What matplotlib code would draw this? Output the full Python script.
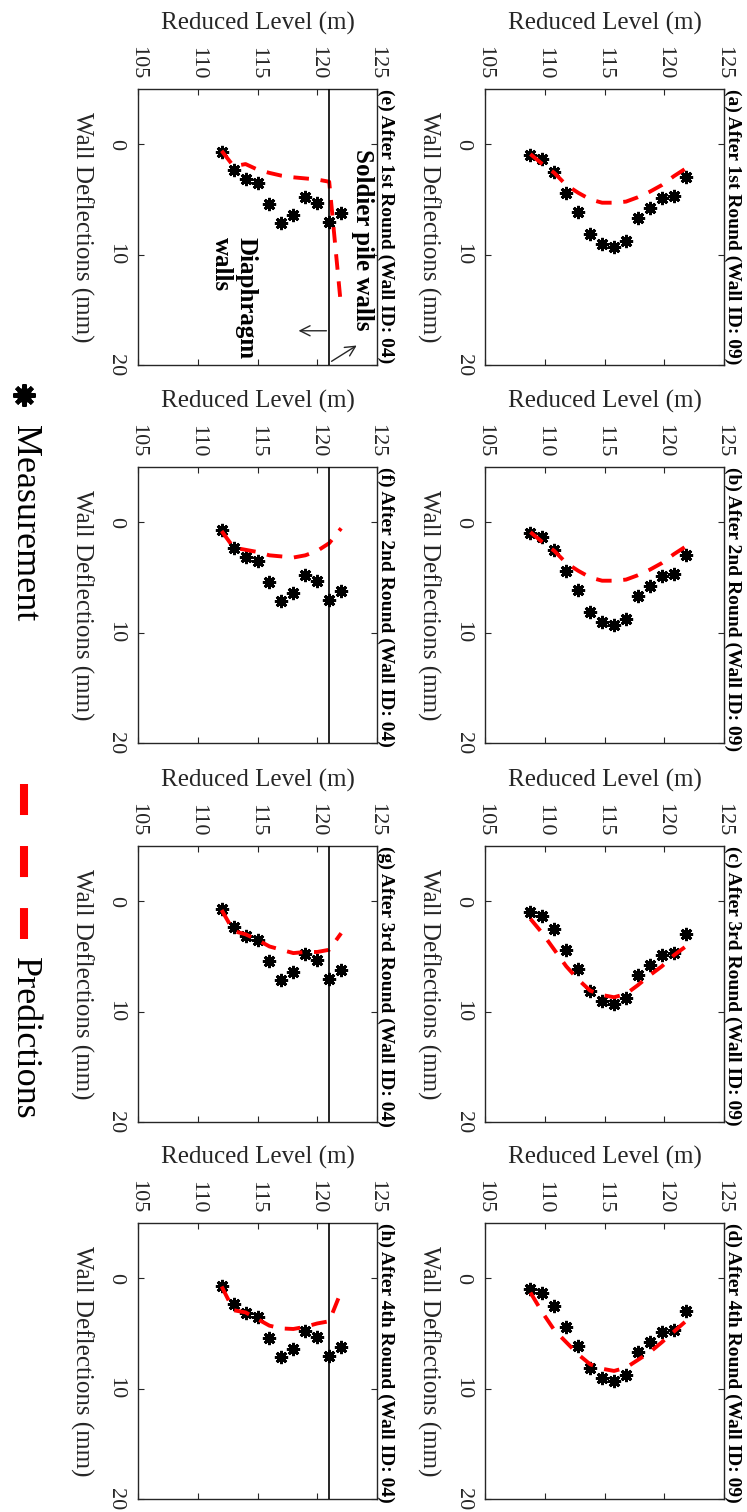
import matplotlib.pyplot as plt
from matplotlib.lines import Line2D

plt.rcParams['font.family'] = ['Liberation Serif', 'DejaVu Serif']

# reduced levels of the inclinometer readings
rl_09 = [108.8, 109.8, 110.8, 111.8, 112.8, 113.8, 114.8, 115.8, 116.8, 117.8, 118.8, 119.8, 120.8, 121.8]
rl_04 = [112, 113, 114, 115, 116, 117, 118, 119, 120, 121, 122]

# measured wall deflections (mm)
meas_09 = [1.0, 1.3, 2.5, 4.4, 6.1, 8.1, 9.0, 9.3, 8.8, 6.7, 5.8, 4.9, 4.7, 3.0]
meas_04 = [0.7, 2.3, 3.15, 3.5, 5.4, 7.1, 6.4, 4.75, 5.35, 7.05, 6.2]

# predicted deflections after each round (mm)
pred_09_r1 = [0.9, 1.8, 2.6, 3.7, 4.4, 5.0, 5.3, 5.3, 5.2, 4.8, 4.3, 3.7, 2.9, 2.2]
pred_09_r2 = [0.9, 1.8, 2.6, 3.7, 4.4, 5.0, 5.3, 5.3, 5.2, 4.8, 4.3, 3.7, 2.9, 2.2]
pred_09_r3 = [1.6, 2.9, 4.4, 5.9, 7.1, 8.1, 8.5, 8.7, 8.4, 7.6, 6.7, 5.9, 4.9, 4.1]
pred_09_r4 = [1.3, 3.1, 4.7, 5.8, 6.9, 7.8, 8.2, 8.4, 8.1, 7.4, 6.7, 5.8, 4.85, 3.9]

pred_04_r1 = [0.6, 2.0, 1.8, 2.3, 2.6, 2.85, 3.0, 3.1, 3.2, 3.4, 14.8]
pred_04_r2 = [0.8, 2.3, 2.5, 2.7, 3.0, 3.1, 3.2, 3.0, 2.6, 1.9, 0.55]
pred_04_r3 = [0.8, 2.7, 3.0, 3.5, 4.1, 4.4, 4.7, 4.6, 4.6, 4.4, 2.9]
pred_04_r4 = [0.75, 2.9, 3.1, 3.7, 4.3, 4.55, 4.6, 4.4, 4.1, 3.9, 1.2]

titles_09 = ['(a) After 1st Round (Wall ID: 09)', '(b) After 2nd Round (Wall ID: 09)',
             '(c) After 3rd Round (Wall ID: 09)', '(d) After 4th Round (Wall ID: 09)']
titles_04 = ['(e) After 1st Round (Wall ID: 04)', '(f) After 2nd Round (Wall ID: 04)',
             '(g) After 3rd Round (Wall ID: 04)', '(h) After 4th Round (Wall ID: 04)']

wall_change_rl = 121.0
x_ticks = [105, 110, 115, 120, 125]
y_ticks = [0, 10, 20]

GRAY = '#262626'
W, H = 747, 1512

fig = plt.figure(figsize=(W / 100, H / 100), dpi=100)


def make_axes(left_px, top_px):
    ax = fig.add_axes([left_px / W, 1 - (top_px + 276) / H, 239 / W, 276 / H])
    ax.set_xlim(105, 125)
    ax.set_ylim(20, -5)
    ax.set_xticks(x_ticks)
    ax.set_yticks(y_ticks)
    ax.tick_params(axis='both', direction='in', top=True, bottom=True, left=True, right=True,
                   labeltop=True, labelbottom=False, length=4, width=0.8,
                   colors=GRAY, labelsize=16)
    ax.tick_params(axis='x', pad=7, labelrotation=-90)
    ax.tick_params(axis='y', pad=9, labelrotation=-90)
    for lab in ax.get_yticklabels():
        lab.set_va('center')
    for s in ax.spines.values():
        s.set_color(GRAY)
        s.set_linewidth(1.0)
    ax.xaxis.set_label_position('top')
    ax.set_xlabel('Reduced Level (m)', fontsize=18, color=GRAY)
    ax.xaxis.label.set(va='center', ha='center')
    ax.xaxis.set_label_coords(0.5, 1.238)
    ax.set_ylabel('Wall Deflections (mm)', fontsize=18, color=GRAY)
    ax.yaxis.label.set(rotation=-90, ha='center', va='center', rotation_mode='default')
    ax.yaxis.set_label_coords(-0.235, 0.5)
    return ax


def draw_panel(ax, rl, meas, pred, title, wall_line=False):
    ax.plot(rl, meas, linestyle='none', marker='o', ms=6, color='k', zorder=3)
    ax.plot(rl, meas, linestyle='none', marker=(8, 2, 0), ms=9.5, mew=2.0, color='k', zorder=3)
    ax.plot(rl, pred, color='red', lw=2.8, dashes=(4, 3), zorder=4)
    if wall_line:
        ax.axvline(wall_change_rl, color='k', lw=1.2, zorder=5)
    ax.text(1.037, 1.0, title, transform=ax.transAxes, rotation=-90, ha='center', va='top',
            fontsize=14, fontweight='bold')


row_top = [89, 467, 846, 1223]
preds_09 = [pred_09_r1, pred_09_r2, pred_09_r3, pred_09_r4]
preds_04 = [pred_04_r1, pred_04_r2, pred_04_r3, pred_04_r4]

for i in range(4):
    ax_r = make_axes(485, row_top[i])
    draw_panel(ax_r, rl_09, meas_09, preds_09[i], titles_09[i])
    ax_l = make_axes(138, row_top[i])
    draw_panel(ax_l, rl_04, meas_04, preds_04[i], titles_04[i], wall_line=True)
    if i == 0:
        ax_l.text(123.8, 0.4, 'Soldier pile walls', rotation=-90, ha='center', va='top',
                  fontsize=18, fontweight='bold')
        ax_l.text(113.0, 8.4, 'Diaphragm\nwalls', rotation=-90, ha='center', va='top',
                  fontsize=18, fontweight='bold', multialignment='left', linespacing=1.1)
        ax_l.annotate('', xy=(118.2, 16.9), xytext=(wall_change_rl, 16.9),
                      arrowprops=dict(arrowstyle='->', lw=1, color=GRAY, mutation_scale=18))
        ax_l.annotate('', xy=(123.5, 18.1), xytext=(wall_change_rl, 19.8),
                      arrowprops=dict(arrowstyle='->', lw=1, color=GRAY, mutation_scale=18))

# legend strip on the left
lx = 24 / W
fig.add_artist(Line2D([lx], [1 - 395 / H], transform=fig.transFigure, linestyle='none',
                      marker='o', ms=10, color='k'))
fig.add_artist(Line2D([lx], [1 - 395 / H], transform=fig.transFigure, linestyle='none',
                      marker=(8, 2, 0), ms=16, mew=3, color='k'))
fig.text(lx, 1 - 425 / H, 'Measurement', rotation=-90, ha='center', va='top', fontsize=26)
fig.add_artist(Line2D([lx, lx], [1 - 784 / H, 1 - 939 / H], transform=fig.transFigure,
                      color='red', lw=5.8, dashes=(3.85, 3.85)))
fig.text(lx, 1 - 957 / H, 'Predictions', rotation=-90, ha='center', va='top', fontsize=26)

fig.savefig('out.png', dpi=100)
